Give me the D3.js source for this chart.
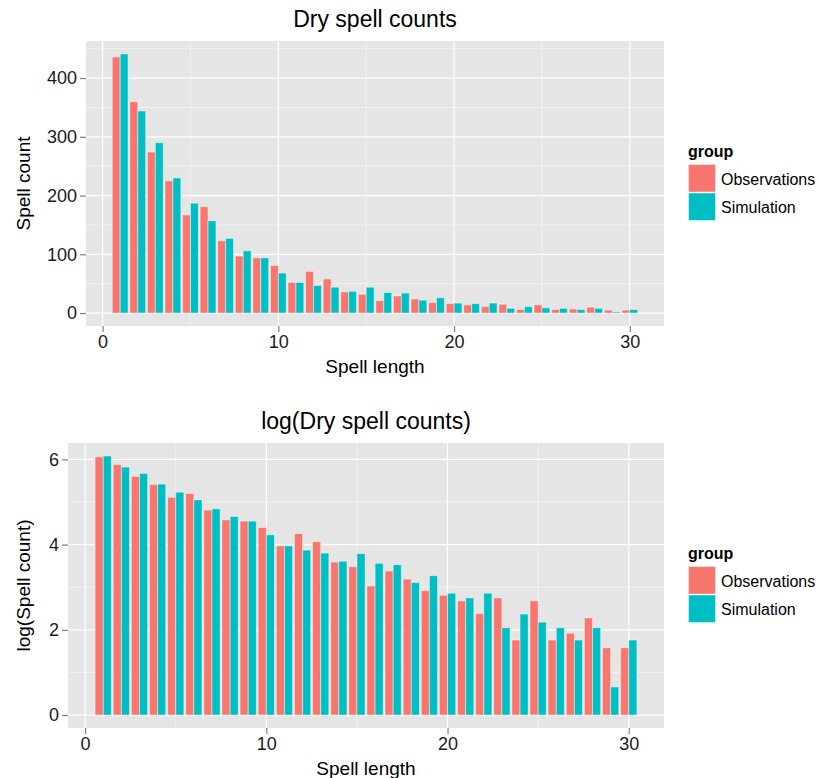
<!DOCTYPE html>
<html>
<head>
<meta charset="utf-8">
<script src="https://d3js.org/d3.v7.min.js"></script>
<style>
  body { margin: 0; background: #fff; }
  text { font-family: "Liberation Sans", Arial, Helvetica, sans-serif; }
</style>
</head>
<body>
<div id="chart"></div>
<script>
var svgWidth = 820;
var svgHeight = 778;

// data
var spellLength = [1, 2, 3, 4, 5, 6, 7, 8, 9, 10, 11, 12, 13, 14, 15,
                   16, 17, 18, 19, 20, 21, 22, 23, 24, 25, 26, 27, 28, 29, 30];
var groups = ["Observations", "Simulation"];
var groupColors = ["#F8766D", "#00BFC4"];

var obsCount = [436, 360, 274, 225, 167, 181, 123, 97, 94, 81, 52, 71, 58, 36, 32,
                21, 29, 24, 18, 16, 14, 11, 15, 6, 14, 6, 7, 10, 5, 5];
var simCount = [441, 344, 290, 230, 187, 157, 127, 106, 94, 68, 52, 47, 44, 37, 44,
                35, 34, 22, 26, 17, 16, 17, 8, 11, 9, 8, 6, 8, 2, 6];

var obsLog = [6.06, 5.88, 5.60, 5.41, 5.11, 5.20, 4.81, 4.58, 4.55, 4.40, 3.97, 4.26, 4.07, 3.59, 3.48,
              3.03, 3.38, 3.19, 2.92, 2.81, 2.68, 2.38, 2.75, 1.76, 2.68, 1.76, 1.92, 2.28, 1.58, 1.58];
var simLog = [6.08, 5.82, 5.67, 5.42, 5.23, 5.05, 4.84, 4.66, 4.55, 4.23, 3.97, 3.87, 3.80, 3.61, 3.79,
              3.56, 3.53, 3.11, 3.27, 2.86, 2.75, 2.86, 2.05, 2.37, 2.18, 2.05, 1.76, 2.05, 0.66, 1.76];

var xTicks = [0, 10, 20, 30];
var xMinor = [5, 15, 25];
var countTicks = [0, 100, 200, 300, 400];
var countMinor = [50, 150, 250, 350, 450];
var logTicks = [0, 2, 4, 6];
var logMinor = [1, 3, 5];

var svg = d3.select("#chart").append("svg")
    .attr("width", svgWidth)
    .attr("height", svgHeight);

function drawPanel(cfg) {
    var barW = 0.45;
    var xLo = spellLength[0] - barW, xHi = spellLength[spellLength.length - 1] + barW;
    var xPad = (xHi - xLo) * 0.05;
    var x = d3.scaleLinear()
        .domain([xLo - xPad, xHi + xPad])
        .range([cfg.left, cfg.right]);

    var yMax = d3.max(cfg.obs.concat(cfg.sim));
    var y = d3.scaleLinear()
        .domain([-yMax * 0.05, yMax * 1.05])
        .range([cfg.bottom, cfg.top]);

    var g = svg.append("g");

    // panel background
    g.append("rect")
        .attr("x", cfg.left).attr("y", cfg.top)
        .attr("width", cfg.right - cfg.left)
        .attr("height", cfg.bottom - cfg.top)
        .attr("fill", "#E5E5E5");

    // minor grid
    g.selectAll(".ymin").data(cfg.minor.filter(d => y(d) > cfg.top)).enter().append("line")
        .attr("x1", cfg.left).attr("x2", cfg.right)
        .attr("y1", d => y(d)).attr("y2", d => y(d))
        .attr("stroke", "#F2F2F2").attr("stroke-width", 0.8);
    g.selectAll(".xmin").data(xMinor).enter().append("line")
        .attr("x1", d => x(d)).attr("x2", d => x(d))
        .attr("y1", cfg.top).attr("y2", cfg.bottom)
        .attr("stroke", "#F2F2F2").attr("stroke-width", 0.8);

    // major grid
    g.selectAll(".ymaj").data(cfg.ticks).enter().append("line")
        .attr("x1", cfg.left).attr("x2", cfg.right)
        .attr("y1", d => y(d)).attr("y2", d => y(d))
        .attr("stroke", "#fff").attr("stroke-width", 1.2);
    g.selectAll(".xmaj").data(xTicks).enter().append("line")
        .attr("x1", d => x(d)).attr("x2", d => x(d))
        .attr("y1", cfg.top).attr("y2", cfg.bottom)
        .attr("stroke", "#fff").attr("stroke-width", 1.2);

    // bars, dodged
    var rows = [];
    spellLength.forEach(function(len, i) {
        rows.push({ x0: len - barW, v: cfg.obs[i], c: groupColors[0] });
        rows.push({ x0: len, v: cfg.sim[i], c: groupColors[1] });
    });
    g.selectAll(".bar").data(rows).enter().append("rect")
        .attr("x", d => x(d.x0))
        .attr("width", d => x(d.x0 + barW) - x(d.x0))
        .attr("y", d => y(d.v))
        .attr("height", d => y(0) - y(d.v))
        .attr("fill", d => d.c)
        .attr("stroke", "#fff")
        .attr("stroke-opacity", 0.45)
        .attr("stroke-width", 1);

    // axes
    var xAxis = d3.axisBottom(x).tickValues(xTicks).tickSize(6).tickPadding(3)
        .tickFormat(d3.format("d"));
    var ax = g.append("g")
        .attr("transform", `translate(0, ${cfg.bottom})`)
        .call(xAxis);
    var yAxis = d3.axisLeft(y).tickValues(cfg.ticks).tickSize(6).tickPadding(3)
        .tickFormat(d3.format("d"));
    var ay = g.append("g")
        .attr("transform", `translate(${cfg.left}, 0)`)
        .call(yAxis);
    [ax, ay].forEach(function(a) {
        a.select(".domain").remove();
        a.selectAll(".tick line").attr("stroke", "#7F7F7F").attr("stroke-width", 1.2);
        a.selectAll(".tick text")
            .attr("fill", "#1a1a1a")
            .style("font-size", "18px")
            .style("font-family", "'Liberation Sans', Arial, sans-serif");
    });

    // titles
    g.append("text")
        .attr("x", (cfg.left + cfg.right) / 2)
        .attr("y", cfg.top - 14)
        .attr("text-anchor", "middle")
        .style("font-size", "23px")
        .text(cfg.title);

    g.append("text")
        .attr("x", (cfg.left + cfg.right) / 2)
        .attr("y", cfg.bottom + 47)
        .attr("text-anchor", "middle")
        .style("font-size", "19px")
        .text("Spell length");

    g.append("text")
        .attr("transform", `translate(30, ${(cfg.top + cfg.bottom) / 2}) rotate(-90)`)
        .attr("text-anchor", "middle")
        .style("font-size", "19px")
        .text(cfg.yTitle);

    // legend
    var mid = (cfg.top + cfg.bottom) / 2;
    var lg = g.append("g").attr("transform", `translate(688, ${mid - 37})`);
    lg.append("text")
        .attr("x", 0).attr("y", 10)
        .style("font-size", "16px")
        .style("font-weight", "bold")
        .text("group");
    groups.forEach(function(name, i) {
        lg.append("rect")
            .attr("x", 0.5).attr("y", 18 + i * 28.5)
            .attr("width", 27).attr("height", 27.5)
            .attr("fill", groupColors[i])
            .attr("stroke", "#fff")
            .attr("stroke-opacity", 0.45)
            .attr("stroke-width", 1);
        lg.append("text")
            .attr("x", 33).attr("y", 38 + i * 28.5)
            .style("font-size", "16px")
            .text(name);
    });
}

drawPanel({
    left: 86, right: 664, top: 41, bottom: 326,
    obs: obsCount, sim: simCount,
    ticks: countTicks, minor: countMinor,
    title: "Dry spell counts", yTitle: "Spell count"
});

drawPanel({
    left: 68, right: 664, top: 443, bottom: 728,
    obs: obsLog, sim: simLog,
    ticks: logTicks, minor: logMinor,
    title: "log(Dry spell counts)", yTitle: "log(Spell count)"
});
</script>
</body>
</html>
